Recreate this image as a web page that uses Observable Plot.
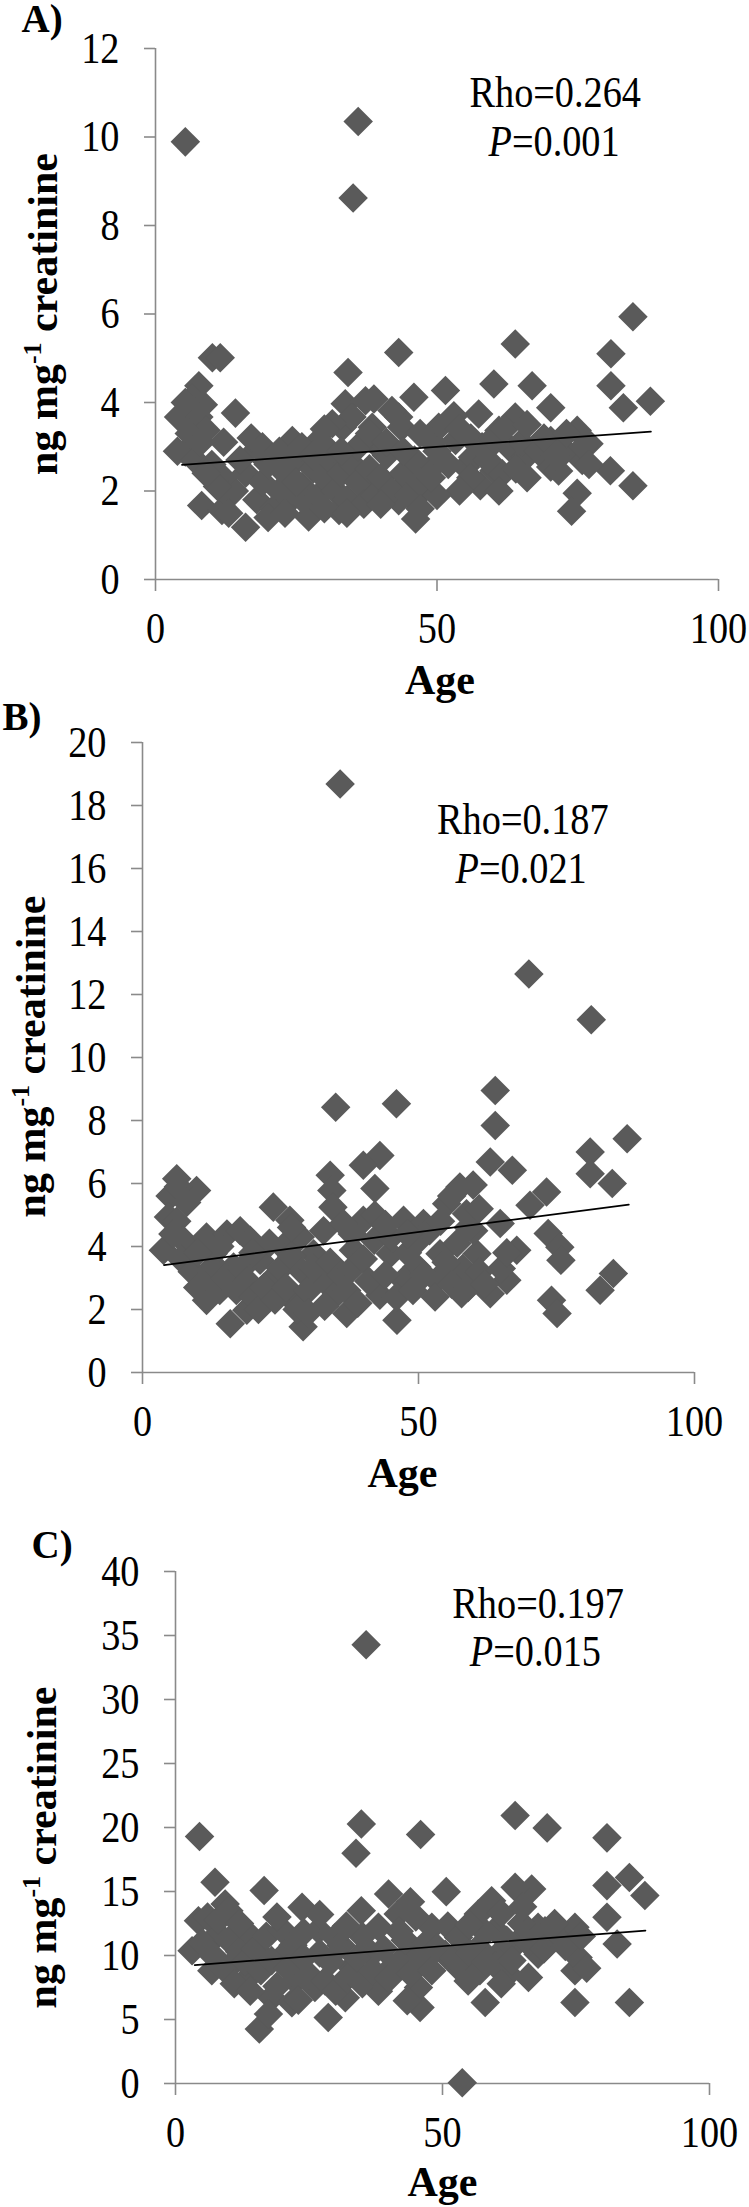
<!DOCTYPE html>
<html>
<head>
<meta charset="utf-8">
<script src="https://cdn.jsdelivr.net/npm/d3@7"></script>
<script src="https://cdn.jsdelivr.net/npm/@observablehq/plot@0.6"></script>
<style>
  html, body { margin: 0; padding: 0; background: #ffffff; }
  #chart { position: relative; width: 749px; height: 2207px; background: #ffffff; }
  #chart svg { position: absolute; left: 0; }
  #chart svg text { font-family: 'Liberation Serif', 'Times New Roman', Times, serif; }
</style>
</head>
<body>
<div id="chart"></div>
<script>
// ---------------- DATA ----------------
const panelLabels = ["A)", "B)", "C)"];
const xTitle = "Age";
const yTitleParts = ["ng mg", "-1", " creatinine"];
const xTicks = [0, 50, 100];
const yTicksA = [0, 2, 4, 6, 8, 10, 12];
const yTicksB = [0, 2, 4, 6, 8, 10, 12, 14, 16, 18, 20];
const yTicksC = [0, 5, 10, 15, 20, 25, 30, 35, 40];
const statsA = ["Rho=0.264", "P=0.001"];
const statsB = ["Rho=0.187", "P=0.021"];
const statsC = ["Rho=0.197", "P=0.015"];

// [age, ng mg-1 creatinine]
const pointsA = [
  [5.3,9.89],[36.0,10.35],[35.1,8.62],[84.8,5.94],[63.9,5.32],[43.2,5.13],[10.1,5.01],[11.5,5.01],
  [80.9,5.10],[34.2,4.68],[80.9,4.38],[51.5,4.27],[60.1,4.42],[66.9,4.38],[87.9,4.03],[83.1,3.88],
  [70.2,3.88],[14.2,3.76],[7.7,4.38],[6.5,4.10],[8.5,3.95],[4.1,3.67],[7.7,3.67],[9.0,3.37],
  [5.3,4.00],[12.1,3.10],[5.3,2.88],[3.9,2.90],[7.0,2.70],[6.0,3.30],[8.0,3.10],
  [80.8,2.46],[84.8,2.12],[74.9,1.95],[73.9,1.54],[46.2,1.37],[16.0,1.18],[8.2,1.67],[43.2,2.01],
  [70.2,2.54],[75.8,2.69],[74.9,3.37],[63.9,3.67],[70.2,3.14],[57.7,2.12],[60.1,2.46],[55.1,2.54],
  [57.4,3.74],[38.8,4.08],[45.9,4.12],[43.2,3.67],[33.7,3.97],[33.2,3.44],[29.0,3.14],[24.3,3.14],
  [17.8,2.91],[39.7,2.99],[48.5,2.46],[48.0,2.08],[43.2,1.78],[32.6,1.56],[27.2,1.41],[11.8,1.56],
  [37.3,2.16],[50.3,3.44],[53.3,3.14],[49.2,3.10],[61.0,3.37],[62.8,2.99],[65.7,2.76],[58.6,2.91],
  [56.3,2.76],[61.6,2.39],[72.8,2.91],[77.0,3.07],[71.6,2.45],[37.3,4.04],[42.0,3.82],[34.9,3.67],
  [31.4,3.52],[38.5,3.44],[43.7,3.44],
  [14,2.0],[16,2.4],[18,1.8],[19,2.2],[20,2.6],[21,1.6],[22,2.0],[23,2.4],[24,1.8],[25,2.7],
  [26,2.1],[27,1.7],[28,2.5],[29,1.9],[30,2.3],[31,2.7],[32,2.0],[33,2.4],[34,1.8],[35,2.6],
  [36,2.2],[37,1.7],[38,2.5],[39,1.9],[40,2.3],[41,2.8],[42,2.0],[44,2.4],[45,1.9],[46,2.7],
  [47,2.2],[12,2.3],[13,1.9],[10,2.6],[11,2.1],[9,2.4],[15,2.7],[17,3.2],[19,3.0],[22,2.9],
  [26,3.0],[28,2.8],[30,3.4],[31,2.9],[36,3.0],[38,3.3],[41,3.1],[44,2.9],[47,3.3],[50,2.9],
  [52,2.6],[53,3.7],[54,3.4],[56,3.2],[58,3.0],[59,2.7],[60,3.2],[62,3.4],[64,2.5],[65,3.1],
  [66,3.5],[68,2.9],[69,3.2],[71,2.8],[73,3.3],[76,3.0],[77,2.6],[56,2.3],[54,2.0],[50,1.9],
  [49,2.3],[47,1.6],[61,2.0],[66,2.3],[20,1.4],[23,1.5],[30,1.6],[34,1.5],[40,1.7],[13,1.5],
  [25,2.2],[33,2.9]
];
const pointsB = [
  [35.8,18.68],[70.0,12.65],[81.3,11.2],[35.0,8.42],[46.0,8.53],[63.9,8.95],[63.9,7.84],[87.8,7.42],
  [81.1,7.0],[81.1,6.31],[85.1,6.0],[63.0,6.68],[67.0,6.42],[43.0,6.89],[40.0,6.58],[42.1,5.84],
  [34.0,6.26],[34.3,5.78],[34.5,5.25],[73.2,5.73],[70.2,5.31],[57.5,5.89],[59.9,5.95],[55.1,5.36],
  [58.7,5.04],[23.7,5.25],[26.7,4.83],
  [6.2,6.15],[9.8,5.78],[5.0,5.6],[4.7,4.94],[6.2,4.8],[3.8,3.88],[7.4,4.2],[11.6,4.3],[15.3,4.4],
  [17.7,4.5],[19.5,4.2],[12.8,3.77],[16.5,3.35],[6.5,5.9],[8.0,5.4],[5.5,4.4],[7.0,3.6],[9.0,3.2],
  [64.8,4.73],[67.8,3.88],[73.5,4.41],[75.6,3.98],[75.8,3.56],[85.3,3.14],[82.9,2.61],[74.1,2.29],
  [75.1,1.87],[66.0,2.93],[63.0,2.5],[57.8,2.5],[46.1,1.66],[43.0,2.45],[37.0,1.87],[29.1,1.45],
  [15.9,1.55],[11.6,2.29],[18.9,1.98],[27.3,2.29],
  [38.2,3.88],[31.0,3.77],[32.8,2.93],[23.7,3.0],[35.2,2.5],[49.7,3.35],[53.3,2.93],[58.0,3.3],
  [60.6,3.77],[53.9,3.77],[44.9,3.77],[47.3,4.83],[50.9,4.73],[40.0,4.83],[42.1,5.0],[47.3,2.93],
  [21.3,3.56],[25.5,3.98],[28.6,4.3],[32.8,4.5],[36.4,4.73],
  [10,2.7],[12,3.0],[14,2.6],[13,3.4],[15,3.0],[17,2.6],[18,3.3],[19,2.9],[20,2.4],[21,2.0],
  [22,2.7],[23,4.1],[24,2.3],[25,3.3],[26,2.7],[27,3.7],[28,2.0],[29,3.2],[30,2.6],[30,1.9],
  [31,3.3],[33,2.1],[34,3.5],[36,3.1],[37,2.6],[38,3.3],[39,2.2],[40,3.6],[41,2.9],[42,4.2],
  [44,3.1],[45,4.3],[46,2.4],[48,3.8],[49,2.6],[50,4.2],[51,3.1],[52,4.5],[53,2.4],[55,3.5],
  [56,2.8],[57,4.1],[59,2.7],[60,4.5],[61,3.2],[62,2.8],[65,3.3],[66,3.8],[44,4.7],[38,4.4],
  [48,4.4],[27,4.6],[20,3.8],[14,4.0],[10,3.8],[54,4.8],[56,5.6],[59,4.6],[61,5.2]
];
const pointsC = [
  [35.7,34.28],[4.5,19.29],[34.8,20.28],[33.8,17.98],[45.9,19.45],[63.6,20.93],[69.6,19.97],[80.8,19.19],
  [53.7,0.05],[85.0,6.33],[74.8,6.33],[58.0,6.33],[15.7,4.25],[28.6,5.16],[45.8,5.94],[85.0,16.1],
  [80.8,15.46],[87.9,14.68],[80.8,12.98],[82.7,10.9],[66.7,15.2],[63.6,15.33],[50.7,14.99],[39.9,14.81],
  [34.8,13.5],[23.7,13.76],[16.6,15.07],[7.4,15.72],[74.8,8.81],[66.1,8.29],[74.8,12.2],[69.2,11.94],
  [59.2,14.28],[56.7,13.24],
  [4.3,12.72],[3.1,10.37],[9.3,14.03],[8.0,11.68],[6.8,8.81],[11.2,9.59],[14.3,11.41],[13.0,8.03],
  [18.0,6.72],[17.4,5.43],[20.5,10.12],[22.4,8.03],[21.8,6.3],[26.1,7.5],[29.9,11.4],[26.8,12.0],
  [33.0,9.07],[31.8,6.7],[36.8,10.1],[38.0,7.2],[41.7,13.24],[41.9,11.9],[40.5,9.07],[44.2,10.1],
  [45.5,7.5],[43.4,6.47],[48.0,12.2],[50.5,10.1],[53.0,9.07],[54.8,8.0],[56.7,10.6],[59.9,12.0],
  [60.5,10.1],[62.3,8.55],[64.2,11.1],[67.9,12.2],[72.3,11.1],[75.4,9.85],[67.9,10.1],[64.8,12.5],
  [5,11.0],[6,13.0],[7,10.0],[8,12.8],[9,9.0],[10,11.2],[10,13.5],[11,7.8],[12,10.3],[12,12.5],
  [13,9.5],[14,7.2],[15,10.5],[16,8.8],[17,11.5],[18,9.6],[19,7.6],[20,12.0],[21,9.0],[22,10.8],
  [23,6.5],[24,9.8],[24,11.8],[25,8.5],[27,10.2],[28,8.0],[29,9.5],[30,7.2],[31,10.8],[32,8.2],
  [34,9.8],[35,7.8],[35,11.5],[37,8.8],[38,12.2],[39,10.5],[40,8.2],[42,9.5],[43,11.2],[44,8.6],
  [46,9.8],[47,11.0],[48,8.8],[49,10.6],[51,12.3],[52,9.8],[53,11.4],[55,10.2],[57,8.8],[58,11.8],
  [60,9.2],[61,13.3],[62,11.2],[63,9.6],[65,13.8],[66,11.0],[69,10.5],[71,12.5],[73,10.7],[76,11.5],
  [77,9.0],[19,13.0],[27,13.2],[32,12.3],[45,13.0],[55,12.4],[58,9.5],[44,14.2],[61,7.8]
];
// trend lines: [age, value] at both ends, as drawn
const trendA = [[4.7, 2.59], [88.0, 3.34]];
const trendB = [[3.9, 3.41], [88.1, 5.33]];
const trendC = [[3.6, 9.25], [88.0, 11.94]];
// where the statistics text sits, in data units [age, value] (line centres)
const statPosA = [[71.0, 10.99], [70.8, 9.88]];
const statPosB = [[68.9, 17.54], [68.6, 15.98]];
const statPosC = [[67.9, 37.48], [67.4, 33.70]];

// ---------------- STYLE ----------------
const FONT = "'Liberation Serif', 'Times New Roman', Times, serif";
const AXIS = "#8a8a8a";
const DOT = "#5a5a5a";
const NARROW = 0.87;   // the reference's serif text is horizontally condensed

const panels = [
  { label: panelLabels[0], pts: pointsA, trend: trendA, stats: statsA, statPos: statPosA, yMax: 12, yTicks: yTicksA,
    top: 0, height: 700, mt: 48, mb: 121, ml: 155, mr: 31,
    labelDx: -134, labelDy: -29, yTitleDx: -112, yTitleDy: 0, xTitleDx: 3, xTitleDy: 101 },
  { label: panelLabels[1], pts: pointsB, trend: trendB, stats: statsB, statPos: statPosB, yMax: 20, yTicks: yTicksB,
    top: 700, height: 800, mt: 42, mb: 128, ml: 142, mr: 55,
    labelDx: -140, labelDy: -25, yTitleDx: -111, yTitleDy: -1, xTitleDx: -16, xTitleDy: 101 },
  { label: panelLabels[2], pts: pointsC, trend: trendC, stats: statsC, statPos: statPosC, yMax: 40, yTicks: yTicksC,
    top: 1500, height: 707, mt: 71, mb: 124, ml: 175, mr: 40,
    labelDx: -144, labelDy: -26, yTitleDx: -133, yTitleDy: 20, xTitleDx: 0, xTitleDy: 99 }
];

const chart = document.getElementById("chart");

for (const p of panels) {
  const data = p.pts.map(([age, val]) => ({ age, val }));
  const trend = p.trend.map(([age, val]) => ({ age, val }));
  const stats = p.stats.map((t, i) => ({ t, age: p.statPos[i][0], val: p.statPos[i][1] }));
  const yTitle = yTitleParts.join("");

  const svg = Plot.plot({
    width: 749,
    height: p.height,
    marginTop: p.mt,
    marginBottom: p.mb,
    marginLeft: p.ml,
    marginRight: p.mr,
    style: { fontFamily: FONT, fontSize: "44px", color: "#000", background: "transparent", overflow: "visible" },
    x: { domain: [0, 100] },
    y: { domain: [0, p.yMax] },
    marks: [
      Plot.ruleY([0], { stroke: AXIS, strokeWidth: 1.6 }),
      Plot.ruleX([0], { stroke: AXIS, strokeWidth: 1.6 }),
      Plot.axisX({ ticks: xTicks, tickSize: 12, tickPadding: 20, stroke: AXIS, strokeWidth: 1.6, fill: "#000",
                   fontFamily: FONT, fontSize: 44, fontVariant: "normal", label: null }),
      Plot.axisY({ ticks: p.yTicks, tickSize: 11, tickPadding: 25, stroke: AXIS, strokeWidth: 1.6, fill: "#000",
                   fontFamily: FONT, fontSize: 44, fontVariant: "normal", label: null }),
      Plot.dot(data, { x: "age", y: "val", symbol: "diamond2", r: 13.3, fill: DOT, stroke: "none" }),
      Plot.line(trend, { x: "age", y: "val", stroke: "#000", strokeWidth: 1.7 }),
      Plot.text(stats, { x: "age", y: "val", text: "t", fontFamily: FONT, fontSize: 44, textAnchor: "middle", lineAnchor: "middle", fill: "#000" }),
      Plot.text([p.label], { frameAnchor: "top-left", dx: p.labelDx, dy: p.labelDy, textAnchor: "start", lineAnchor: "middle",
                             fontFamily: FONT, fontWeight: "bold", fontSize: 39, fill: "#000" }),
      Plot.text([xTitle], { frameAnchor: "bottom", dx: p.xTitleDx, dy: p.xTitleDy, textAnchor: "middle", lineAnchor: "middle",
                            fontFamily: FONT, fontWeight: "bold", fontSize: 42, fill: "#000" }),
      Plot.text([yTitle], { frameAnchor: "left", rotate: -90, dx: p.yTitleDx, dy: p.yTitleDy, textAnchor: "middle", lineAnchor: "middle",
                            fontFamily: FONT, fontWeight: "bold", fontSize: 42, fill: "#000" })
    ]
  });

  svg.style.top = p.top + "px";
  svg.style.position = "absolute";
  svg.style.left = "0px";
  chart.appendChild(svg);

  // rich text: italic P and superscript -1
  d3.select(svg).selectAll("text").each(function () {
    const el = d3.select(this);
    const txt = this.textContent;
    if (txt.startsWith("P=") && this.childElementCount === 0) {
      el.text(null);
      el.append("tspan").attr("font-style", "italic").text("P");
      el.append("tspan").text(txt.slice(1));
    } else if (txt === yTitle && this.childElementCount === 0) {
      el.text(null);
      el.append("tspan").text(yTitleParts[0]);
      el.append("tspan").attr("font-size", 26).attr("dy", -16).text(yTitleParts[1]);
      el.append("tspan").attr("dy", 16).text(yTitleParts[2]);
    }
  });

  // condense horizontal serif text (tick labels and statistics) like the reference
  d3.select(svg).selectAll("text").each(function () {
    const txt = this.textContent;
    const isTick = /^\d+$/.test(txt);
    const isStat = txt.startsWith("Rho=") || txt.startsWith("P=");
    if (isTick || isStat) {
      const len = this.getComputedTextLength();
      if (len > 0) {
        this.setAttribute("textLength", (len * NARROW).toFixed(1));
        this.setAttribute("lengthAdjust", "spacingAndGlyphs");
      }
    }
  });
}
</script>
</body>
</html>
